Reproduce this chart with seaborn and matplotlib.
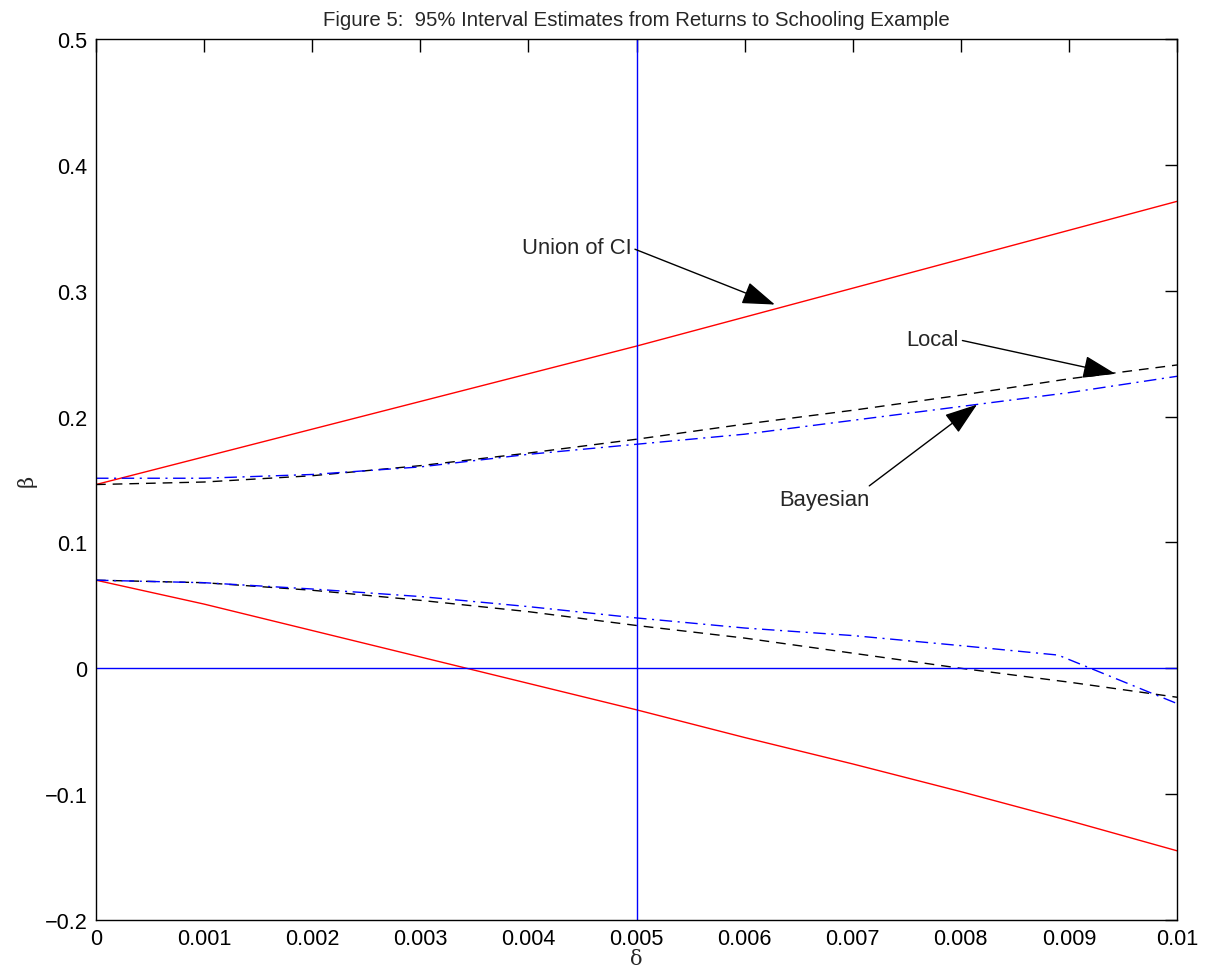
import matplotlib
matplotlib.use("Agg")
import matplotlib.pyplot as plt
import seaborn as sns
import numpy as np
import pandas as pd

# ---- data ----
delta = [0.0, 0.001, 0.002, 0.003, 0.004, 0.005, 0.006, 0.007, 0.008, 0.009, 0.010]
union_upper = [0.146, 0.168, 0.190, 0.212, 0.234, 0.256, 0.279, 0.302, 0.325, 0.348, 0.371]
union_lower = [0.070, 0.051, 0.030, 0.009, -0.012, -0.033, -0.055, -0.076, -0.098, -0.121, -0.145]
local_upper = [0.146, 0.148, 0.153, 0.161, 0.171, 0.182, 0.194, 0.205, 0.217, 0.230, 0.241]
local_lower = [0.070, 0.068, 0.062, 0.054, 0.045, 0.034, 0.024, 0.012, 0.000, -0.011, -0.023]
bayes_upper = [0.151, 0.151, 0.154, 0.160, 0.170, 0.178, 0.186, 0.197, 0.208, 0.219, 0.232]
delta_bl = [0.0, 0.001, 0.002, 0.003, 0.004, 0.005, 0.006, 0.007, 0.008, 0.0089, 0.010]
bayes_lower = [0.070, 0.068, 0.063, 0.057, 0.049, 0.040, 0.032, 0.026, 0.018, 0.0105, -0.028]

x_ticks = [0, 0.001, 0.002, 0.003, 0.004, 0.005, 0.006, 0.007, 0.008, 0.009, 0.01]
x_tick_labels = ["0", "0.001", "0.002", "0.003", "0.004", "0.005", "0.006", "0.007", "0.008", "0.009", "0.01"]
y_ticks = [-0.2, -0.1, 0, 0.1, 0.2, 0.3, 0.4, 0.5]
y_tick_labels = ["\u22120.2", "\u22120.1", "0", "0.1", "0.2", "0.3", "0.4", "0.5"]

sns.set_style("white")
plt.rcParams['font.family'] = ['Liberation Sans', 'DejaVu Sans']

fig = plt.figure(figsize=(12.06, 9.78), dpi=100)
ax = fig.add_axes([96/1206, 1 - 921/978, (1177-96)/1206, (921-40)/978])

red = "#ff0000"
blue = "#0000ff"
sns.lineplot(x=delta, y=union_upper, ax=ax, color=red, lw=1.0, estimator=None, sort=False)
sns.lineplot(x=delta, y=union_lower, ax=ax, color=red, lw=1.0, estimator=None, sort=False)
sns.lineplot(x=delta, y=local_upper, ax=ax, color="black", lw=1.0,
             linestyle=(0, (7, 5)), estimator=None, sort=False)
sns.lineplot(x=delta, y=local_lower, ax=ax, color="black", lw=1.0,
             linestyle=(0, (7, 5)), estimator=None, sort=False)
sns.lineplot(x=delta, y=bayes_upper, ax=ax, color=blue, lw=1.0,
             linestyle=(0, (9, 4, 1.5, 4)), estimator=None, sort=False)
sns.lineplot(x=delta_bl, y=bayes_lower, ax=ax, color=blue, lw=1.0,
             linestyle=(0, (9, 4, 1.5, 4)), estimator=None, sort=False)

ax.axvline(0.005, color=blue, lw=1.0)
ax.axhline(0.0, color=blue, lw=1.0)

ax.set_xlim(0, 0.01)
ax.set_ylim(-0.2, 0.5)
ax.set_xticks(x_ticks)
ax.set_xticklabels(x_tick_labels)
ax.set_yticks(y_ticks)
ax.set_yticklabels(y_tick_labels)
ax.tick_params(direction="in", length=9, width=1, top=True, right=True,
               labelsize=15.6, colors="black", pad=6)
for s in ax.spines.values():
    s.set_visible(True)
    s.set_color("black")
    s.set_linewidth(1.0)

ax.set_xlabel("\u03b4", fontsize=15, family="DejaVu Serif", labelpad=0)
ax.set_ylabel("\u03b2", fontsize=15, family="DejaVu Serif", labelpad=6)
ax.set_title("Figure 5:  95% Interval Estimates from Returns to Schooling Example",
             fontsize=14.7, pad=10)

aprops = dict(arrowstyle="-|>,head_length=1.3,head_width=0.45", color="black",
              lw=1.0, shrinkA=0, shrinkB=0)
ax.annotate("Union of CI", xy=(0.00628, 0.289), xytext=(0.00394, 0.334),
            fontsize=15.8, ha="left", va="center",
            arrowprops=dict(aprops, relpos=(1.0, 0.5)))
ax.annotate("Local", xy=(0.00943, 0.234), xytext=(0.00750, 0.261),
            fontsize=15.8, ha="left", va="center",
            arrowprops=dict(aprops, relpos=(1.0, 0.5)))
ax.annotate("Bayesian", xy=(0.00815, 0.2095), xytext=(0.00632, 0.134),
            fontsize=15.8, ha="left", va="center",
            arrowprops=dict(aprops, relpos=(0.95, 1.0)))

fig.savefig("out.png", dpi=100)
